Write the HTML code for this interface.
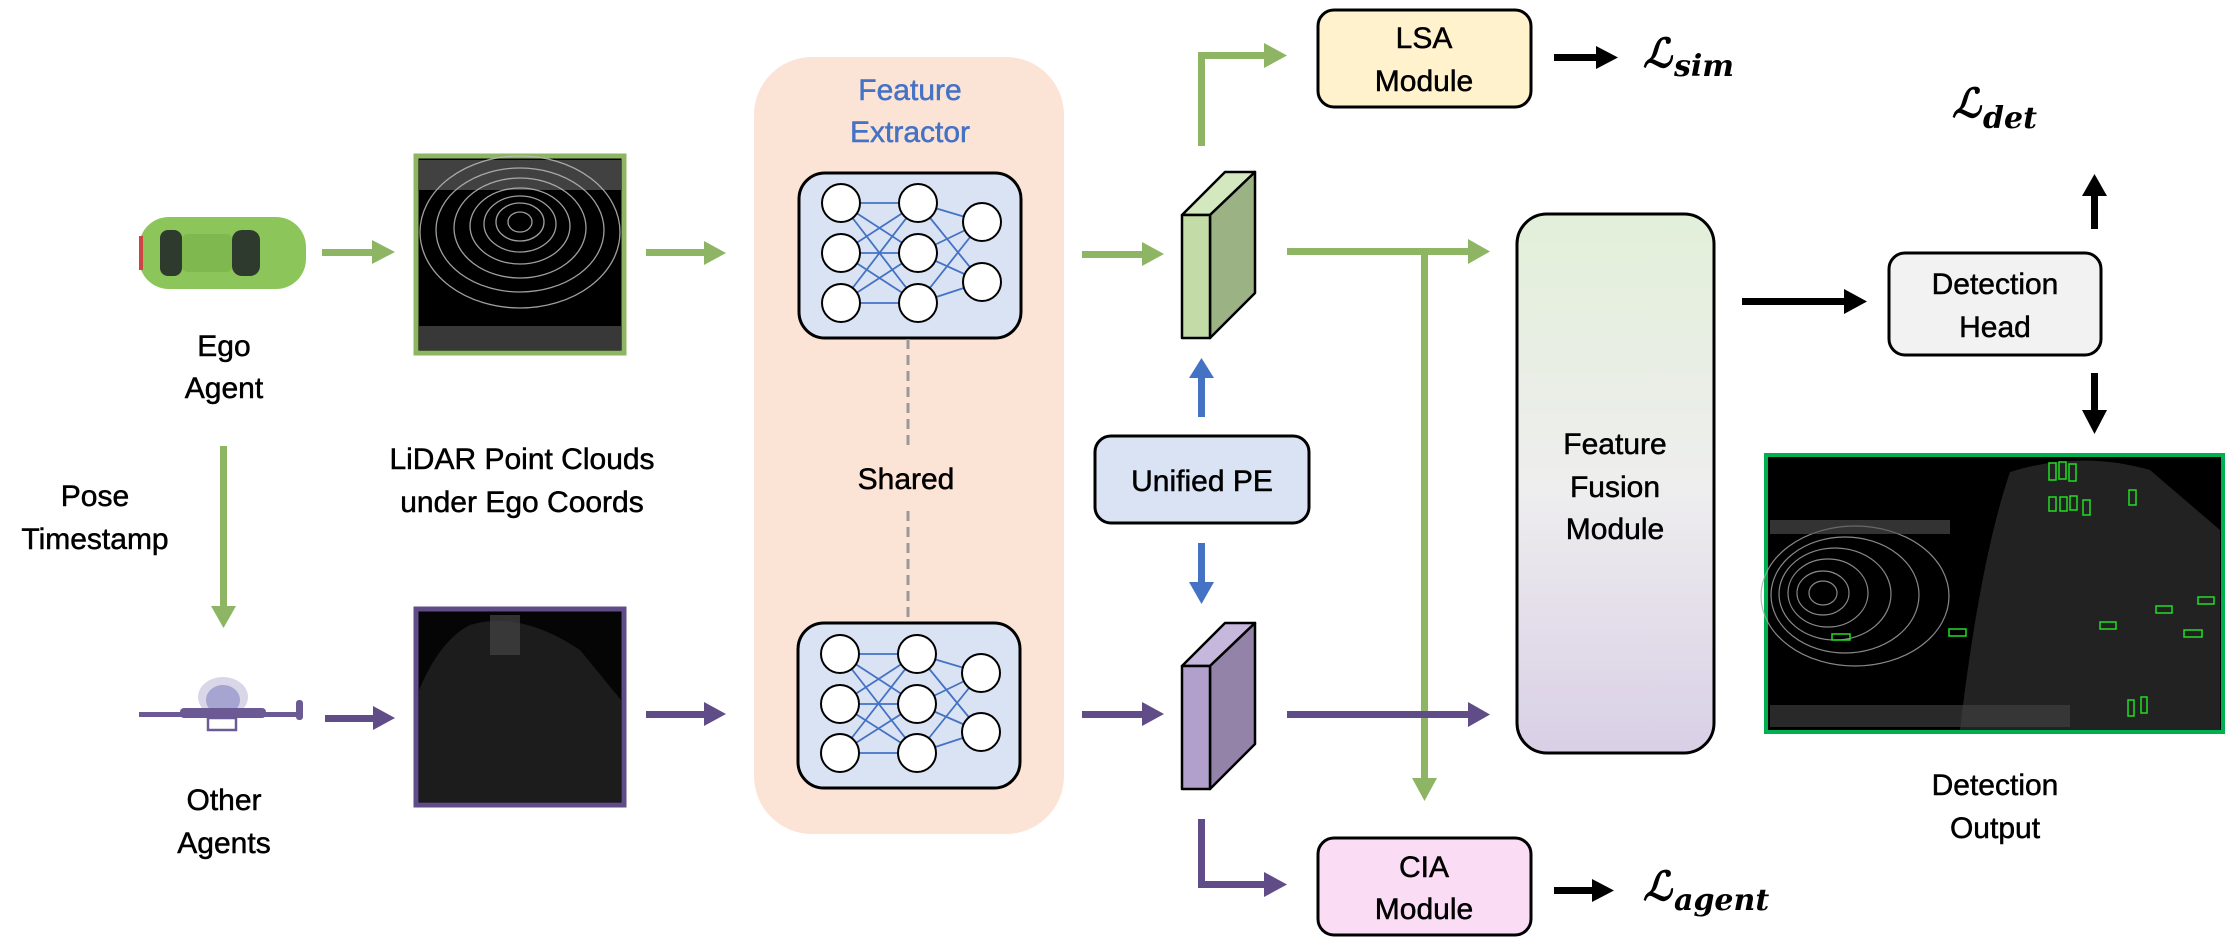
<!DOCTYPE html>
<html><head><meta charset="utf-8">
<style>
html,body{margin:0;padding:0;background:#fff;}
svg{display:block;}
text{font-family:"Liberation Sans","DejaVu Sans",sans-serif;}
.t{font-size:30px;fill:#000;text-anchor:middle;stroke:#000;stroke-width:0.5px;}
.L{font-family:"DejaVu Serif","Liberation Serif",serif;font-weight:bold;font-style:italic;}
</style></head>
<body>
<svg width="2232" height="945" viewBox="0 0 2232 945" xmlns="http://www.w3.org/2000/svg">
<defs>
<linearGradient id="ff" x1="0" y1="0" x2="0" y2="1">
<stop offset="0" stop-color="#e2efd9"/><stop offset="0.5" stop-color="#eeeeee"/><stop offset="1" stop-color="#d9cfe6"/>
</linearGradient>
</defs>

<!-- Car -->
<g>
<rect x="139" y="217" width="167" height="72" rx="30" fill="#8cc65a"/>
<rect x="160" y="230" width="22" height="46" rx="8" fill="#2f3a2f"/>
<rect x="232" y="230" width="28" height="46" rx="10" fill="#2f3a2f"/>
<rect x="182" y="234" width="50" height="38" rx="6" fill="#7fb84e"/>
<rect x="139" y="236" width="4" height="34" fill="#c44"/>
</g>
<text class="t" x="224" y="356">Ego</text>
<text class="t" x="224" y="398">Agent</text>

<!-- green arrows top row -->
<g fill="#8db563" stroke="none">
<rect x="322" y="249" width="52" height="7"/><polygon points="372,240 395,252 372,264"/>
<rect x="646" y="249" width="60" height="7"/><polygon points="704,241 726,253 704,265"/>
<rect x="1082" y="251" width="62" height="7"/><polygon points="1142,242 1164,254 1142,266"/>
</g>

<!-- green point cloud image -->
<rect x="416" y="156" width="208" height="197" fill="#000" stroke="#8db563" stroke-width="5"/>
<rect x="419" y="160" width="202" height="30" fill="#777" opacity="0.55"/>
<g fill="none" stroke="#bbb" stroke-width="1.3" opacity="0.85">
<ellipse cx="520" cy="222" rx="12" ry="10"/><ellipse cx="520" cy="222" rx="24" ry="19"/><ellipse cx="520" cy="224" rx="36" ry="28"/>
<ellipse cx="520" cy="226" rx="50" ry="38"/><ellipse cx="520" cy="228" rx="66" ry="50"/><ellipse cx="520" cy="230" rx="84" ry="62"/><ellipse cx="520" cy="232" rx="100" ry="76"/>
</g>
<rect x="419" y="326" width="202" height="24" fill="#666" opacity="0.55"/>

<text class="t" x="522" y="469">LiDAR Point Clouds</text>
<text class="t" x="522" y="512">under Ego Coords</text>

<text class="t" x="95" y="506">Pose</text>
<text class="t" x="95" y="549">Timestamp</text>

<!-- green vertical arrow -->
<rect x="220" y="446" width="7" height="162" fill="#8db563"/>
<polygon points="211,606 236,606 223.5,628" fill="#8db563"/>

<!-- drone -->
<g>
<ellipse cx="223" cy="697" rx="25" ry="20" fill="#d9d6e8"/>
<ellipse cx="223" cy="700" rx="17" ry="15" fill="#a6a4d0"/>
<rect x="139" y="712" width="160" height="5" fill="#6b5a94"/>
<rect x="180" y="708" width="86" height="10" rx="4" fill="#6b5a94"/>
<rect x="296" y="700" width="7" height="20" rx="3" fill="#6b5a94"/>
<rect x="208" y="718" width="28" height="12" fill="none" stroke="#6b5a94" stroke-width="2.5"/>
</g>
<text class="t" x="224" y="810">Other</text>
<text class="t" x="224" y="853">Agents</text>

<!-- purple arrows -->
<g fill="#604c86">
<rect x="325" y="715" width="50" height="7"/><polygon points="373,706 395,718 373,730"/>
<rect x="646" y="711" width="60" height="7"/><polygon points="704,702 726,714 704,726"/>
<rect x="1082" y="711" width="62" height="7"/><polygon points="1142,702 1164,714 1142,726"/>
</g>

<!-- purple point cloud image -->
<rect x="416" y="609" width="208" height="196" fill="#050505" stroke="#604c86" stroke-width="5"/>
<path d="M470,625 Q520,610 580,650 L621,700 L621,802 L419,802 L419,690 Q440,640 470,625Z" fill="#1c1c1c"/>
<rect x="490" y="615" width="30" height="40" fill="#444" opacity="0.7"/>

<!-- Feature extractor bg -->
<rect x="754" y="57" width="310" height="777" rx="58" fill="#fbe4d6"/>
<text x="910" y="100" font-size="30" fill="#4472c4" stroke="#4472c4" stroke-width="0.5" text-anchor="middle">Feature</text>
<text x="910" y="142" font-size="30" fill="#4472c4" stroke="#4472c4" stroke-width="0.5" text-anchor="middle">Extractor</text>

<!-- NN 1 -->
<rect x="799" y="173" width="222" height="165" rx="26" fill="#dae3f3" stroke="#000" stroke-width="3"/>
<g stroke="#4472c4" stroke-width="1.8">
<path d="M841,203L918,203M841,203L918,253M841,203L918,303M841,253L918,203M841,253L918,253M841,253L918,303M841,303L918,203M841,303L918,253M841,303L918,303"/>
<path d="M918,203L982,222M918,203L982,282M918,253L982,222M918,253L982,282M918,303L982,222M918,303L982,282"/>
</g>
<g fill="#fff" stroke="#000" stroke-width="2">
<ellipse cx="841" cy="203" rx="19" ry="19"/><ellipse cx="841" cy="253" rx="19" ry="19"/><ellipse cx="841" cy="303" rx="19" ry="19"/>
<ellipse cx="918" cy="203" rx="19" ry="19"/><ellipse cx="918" cy="253" rx="19" ry="19"/><ellipse cx="918" cy="303" rx="19" ry="19"/>
<ellipse cx="982" cy="222" rx="19" ry="19"/><ellipse cx="982" cy="282" rx="19" ry="19"/>
</g>

<line x1="908" y1="339" x2="908" y2="446" stroke="#999" stroke-width="3" stroke-dasharray="10,6"/>
<line x1="908" y1="511" x2="908" y2="622" stroke="#999" stroke-width="3" stroke-dasharray="10,6"/>
<text class="t" x="906" y="489">Shared</text>

<!-- NN 2 -->
<rect x="798" y="623" width="222" height="165" rx="26" fill="#dae3f3" stroke="#000" stroke-width="3"/>
<g stroke="#4472c4" stroke-width="1.8">
<path d="M840,654L917,654M840,654L917,704M840,654L917,753M840,704L917,654M840,704L917,704M840,704L917,753M840,753L917,654M840,753L917,704M840,753L917,753"/>
<path d="M917,654L981,673M917,654L981,732M917,704L981,673M917,704L981,732M917,753L981,673M917,753L981,732"/>
</g>
<g fill="#fff" stroke="#000" stroke-width="2">
<ellipse cx="840" cy="654" rx="19" ry="19"/><ellipse cx="840" cy="704" rx="19" ry="19"/><ellipse cx="840" cy="753" rx="19" ry="19"/>
<ellipse cx="917" cy="654" rx="19" ry="19"/><ellipse cx="917" cy="704" rx="19" ry="19"/><ellipse cx="917" cy="753" rx="19" ry="19"/>
<ellipse cx="981" cy="673" rx="19" ry="19"/><ellipse cx="981" cy="732" rx="19" ry="19"/>
</g>

<!-- green block -->
<g stroke="#000" stroke-width="2.5" stroke-linejoin="round">
<polygon points="1182,215 1225,172 1255,172 1210,215" fill="#d4e8c0"/>
<polygon points="1210,215 1255,172 1255,293 1210,338" fill="#9bb384"/>
<rect x="1182" y="215" width="28" height="123" fill="#c3dca7"/>
</g>
<!-- purple block -->
<g stroke="#000" stroke-width="2.5" stroke-linejoin="round">
<polygon points="1182,666 1225,623 1255,623 1210,666" fill="#c6b8dc"/>
<polygon points="1210,666 1255,623 1255,744 1210,789" fill="#9483a8"/>
<rect x="1182" y="666" width="28" height="123" fill="#b1a0cc"/>
</g>

<!-- green to LSA -->
<g fill="#8db563">
<rect x="1198" y="52" width="7" height="94"/>
<rect x="1198" y="52" width="68" height="7"/>
<polygon points="1264,43 1287,55.5 1264,68"/>
<rect x="1287" y="248" width="183" height="7"/>
<polygon points="1468,239 1490,251.5 1468,264"/>
<rect x="1421" y="248" width="7" height="532"/>
<polygon points="1412,778 1437,778 1424.5,801"/>
</g>

<!-- purple line to FF and CIA -->
<g fill="#604c86">
<rect x="1287" y="711" width="183" height="7"/>
<polygon points="1468,702 1490,714.5 1468,727"/>
<rect x="1198" y="819" width="7" height="68"/>
<rect x="1198" y="881" width="68" height="7"/>
<polygon points="1264,872 1287,884.5 1264,897"/>
</g>

<!-- Unified PE -->
<g fill="#4472c4">
<rect x="1198" y="375" width="7" height="42"/><polygon points="1189,378 1214,378 1201.5,358"/>
<rect x="1198" y="543" width="7" height="42"/><polygon points="1189,582 1214,582 1201.5,604"/>
</g>
<rect x="1095" y="436" width="214" height="87" rx="16" fill="#dae3f3" stroke="#000" stroke-width="3"/>
<text class="t" x="1202" y="491">Unified PE</text>

<!-- LSA -->
<rect x="1318" y="10" width="213" height="97" rx="16" fill="#fff2cc" stroke="#000" stroke-width="3"/>
<text class="t" x="1424" y="48">LSA</text>
<text class="t" x="1424" y="91">Module</text>
<g fill="#000"><rect x="1554" y="54" width="44" height="7"/><polygon points="1596,46 1618,57.5 1596,69"/></g>
<text class="L" x="1643" y="67" font-size="40">ℒ</text>
<text class="L" x="1674" y="76" font-size="30">sim</text>

<!-- CIA -->
<rect x="1318" y="838" width="213" height="97" rx="16" fill="#fbdcf5" stroke="#000" stroke-width="3"/>
<text class="t" x="1424" y="877">CIA</text>
<text class="t" x="1424" y="919">Module</text>
<g fill="#000"><rect x="1554" y="887" width="40" height="7"/><polygon points="1592,879 1614,890.5 1592,902"/></g>
<text class="L" x="1643" y="900" font-size="40">ℒ</text>
<text class="L" x="1674" y="910" font-size="30">agent</text>

<!-- Feature Fusion -->
<rect x="1517" y="214" width="197" height="539" rx="30" fill="url(#ff)" stroke="#000" stroke-width="3"/>
<text class="t" x="1615" y="454">Feature</text>
<text class="t" x="1615" y="497">Fusion</text>
<text class="t" x="1615" y="539">Module</text>

<!-- FF to DH -->
<g fill="#000"><rect x="1742" y="298" width="104" height="7"/><polygon points="1844,289 1867,301.5 1844,314"/></g>

<!-- Detection head -->
<rect x="1889" y="253" width="212" height="102" rx="16" fill="#f2f2f2" stroke="#000" stroke-width="3"/>
<text class="t" x="1995" y="294">Detection</text>
<text class="t" x="1995" y="337">Head</text>

<g fill="#000">
<rect x="2091" y="193" width="7" height="36"/><polygon points="2082,196 2107,196 2094.5,174"/>
<rect x="2091" y="373" width="7" height="40"/><polygon points="2082,410 2107,410 2094.5,434"/>
</g>
<text class="L" x="1952" y="117" font-size="40">ℒ</text>
<text class="L" x="1983" y="128" font-size="30">det</text>

<!-- Detection output image -->
<rect x="1766" y="455" width="457" height="277" fill="#000" stroke="#00b050" stroke-width="4"/>
<g fill="none" stroke="#aaa" stroke-width="1.2" opacity="0.8">
<ellipse cx="1823" cy="593" rx="14" ry="12"/><ellipse cx="1823" cy="593" rx="26" ry="22"/><ellipse cx="1828" cy="593" rx="40" ry="34"/>
<ellipse cx="1835" cy="594" rx="56" ry="46"/><ellipse cx="1845" cy="595" rx="74" ry="58"/><ellipse cx="1855" cy="596" rx="94" ry="70"/>
</g>
<path d="M2010,472 Q2080,450 2150,470 L2220,530 L2220,730 L1960,730 Q1980,560 2010,472Z" fill="#222"/>
<rect x="1770" y="520" width="180" height="14" fill="#555" opacity="0.6"/>
<rect x="1770" y="705" width="300" height="22" fill="#444" opacity="0.6"/>
<g fill="none" stroke="#22dd22" stroke-width="1.5">
<rect x="2049" y="463" width="7" height="17"/><rect x="2059" y="462" width="7" height="17"/><rect x="2069" y="464" width="7" height="17"/>
<rect x="2049" y="497" width="7" height="14"/><rect x="2060" y="497" width="7" height="14"/><rect x="2070" y="496" width="7" height="14"/><rect x="2083" y="500" width="7" height="15"/>
<rect x="2129" y="490" width="7" height="15"/>
<rect x="1832" y="634" width="18" height="6"/><rect x="1949" y="629" width="17" height="7"/>
<rect x="2100" y="622" width="16" height="7"/><rect x="2156" y="606" width="16" height="7"/><rect x="2198" y="597" width="16" height="7"/><rect x="2184" y="630" width="18" height="7"/>
<rect x="2128" y="700" width="6" height="16"/><rect x="2141" y="697" width="6" height="16"/>
</g>
<text class="t" x="1995" y="795">Detection</text>
<text class="t" x="1995" y="838">Output</text>
</svg>
</body></html>
